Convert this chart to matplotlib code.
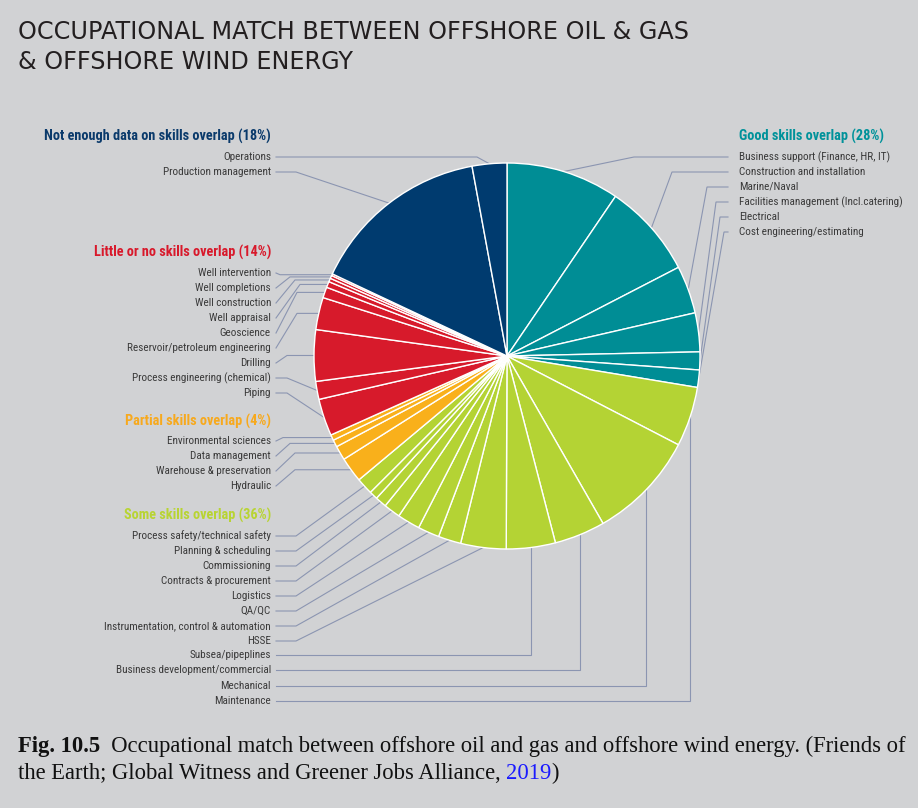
import numpy as np
import matplotlib.pyplot as plt
from matplotlib import font_manager

# shares of occupations (%), in the order of the label lists
good_labels = ['Business support (Finance, HR, IT)', 'Construction and installation', 'Marine/Naval',
               'Facilities management (Incl.catering)', 'Electrical', 'Cost engineering/estimating']
good_values = [9.5, 7.9, 4.0, 3.25, 1.5, 1.45]

some_labels = ['Process safety/technical safety', 'Planning & scheduling', 'Commissioning',
               'Contracts & procurement', 'Logistics', 'QA/QC', 'Instrumentation, control & automation',
               'HSSE', 'Subsea/pipeplines', 'Business development/commercial', 'Mechanical', 'Maintenance']
some_values = [1.4, 0.7, 0.95, 1.4, 1.9, 1.8, 1.9, 3.8, 4.1, 4.25, 9.1, 5.0]

partial_labels = ['Environmental sciences', 'Data management', 'Warehouse & preservation', 'Hydraulic']
partial_values = [0.47, 0.6, 1.2, 2.1]

little_labels = ['Well intervention', 'Well completions', 'Well construction', 'Well appraisal',
                 'Geoscience', 'Reservoir/petroleum engineering', 'Drilling',
                 'Process engineering (chemical)', 'Piping']
little_values = [0.15, 0.25, 0.3, 0.5, 0.9, 2.7, 4.3, 1.5, 3.1]

notenough_labels = ['Operations', 'Production management']
notenough_values = [2.9, 15.1]

group_titles = ['Good skills overlap (28%)', 'Some skills overlap (36%)', 'Partial skills overlap (4%)',
                'Little or no skills overlap (14%)', 'Not enough data on skills overlap (18%)']

# colours
BG = '#d1d2d4'
TEAL, GREEN, ORANGE, RED, NAVY = '#008d95', '#b4d334', '#f9b01b', '#d71a2b', '#003b6f'
HEAD = ['#00929a', '#b8d432', '#f7a91d', '#d8192b', '#0a3a6b']
LINE = '#8b95b1'
TXT = '#3a3a3a'

W, H = 918, 808
CX, CY, R = 507, 356, 193   # pie centre / radius in pixels (y from top)

# a narrow sans for the labels if one is installed
fonts = font_manager.fontManager.ttflist
avail = {f.name for f in fonts}
LFONT, LSTRETCH = 'Roboto', 'normal'
for n in ['Liberation Sans Narrow', 'Roboto Condensed', 'Noto Sans Condensed',
          'Open Sans Condensed', 'DejaVu Sans Condensed']:
    if n in avail:
        LFONT = n
        break
else:
    for n in ['Noto Sans', 'Open Sans', 'DejaVu Sans']:
        if any(f.name == n and f.stretch in ('condensed', 'semi-condensed') for f in fonts):
            LFONT, LSTRETCH = n, 'condensed'
            break

fig = plt.figure(figsize=(W / 100, H / 100), dpi=100, facecolor=BG)
ax = fig.add_axes([0, 0, 1, 1])
ax.set_facecolor(BG)
renderer = fig.canvas.get_renderer()


def fit_size(s, width, **kw):
    # font size that makes string s about `width` pixels wide
    t = ax.text(0, 0, s, fontsize=10, **kw)
    w = t.get_window_extent(renderer).width
    t.remove()
    return 10 * width / w


# clockwise from 12 o'clock: good, then the left-hand groups bottom-up
values = (good_values + some_values[::-1] + partial_values[::-1]
          + little_values[::-1] + notenough_values[::-1])
names = (good_labels + some_labels[::-1] + partial_labels[::-1]
         + little_labels[::-1] + notenough_labels[::-1])
colors = ([TEAL] * len(good_values) + [GREEN] * len(some_values) + [ORANGE] * len(partial_values)
          + [RED] * len(little_values) + [NAVY] * len(notenough_values))

wedges, _ = ax.pie(values, colors=colors, startangle=90, counterclock=False,
                   center=(CX, H - CY), radius=R,
                   wedgeprops=dict(edgecolor='white', linewidth=1.0))
ax.set_xlim(0, W)
ax.set_ylim(0, H)
ax.set_aspect('equal')
ax.axis('off')

mid = {}
for n, w in zip(names, wedges):
    a = np.deg2rad((w.theta1 + w.theta2) / 2)
    mid[n] = (CX + R * np.cos(a), CY - R * np.sin(a))


def leader(x0, y0, bend, target, style):
    tx, ty = target
    if style == 'hd':
        pts = [(x0, y0), (bend, y0), (tx, ty)]
    elif style == 'dh':
        pts = [(x0, y0), (bend, ty), (tx, ty)]
    else:  # horizontal then vertical
        pts = [(x0, y0), (tx, y0), (tx, ty)]
    xs = [p[0] for p in pts]
    ys = [H - p[1] for p in pts]
    ax.plot(xs, ys, color=LINE, lw=0.8, solid_joinstyle='miter', zorder=0)


LX, LLINE = 271, 276     # left text right edge / line start
RX, RLINE = 739, 728     # right text left edge / line start
lkw = dict(family=LFONT, fontstretch=LSTRETCH)
FS = fit_size('Production management', 108, **lkw)
HFS = fit_size(group_titles[4], 226, fontweight='bold', **lkw)


def label(x, y, s, ha):
    ax.text(x, H - y, s, ha=ha, va='center', fontsize=FS, color=TXT, **lkw)


def header(x, y, s, ha, c):
    ax.text(x, H - y, s, ha=ha, va='center', fontsize=HFS, color=c, fontweight='bold', **lkw)


# right side: good skills
header(RX, 136, group_titles[0], 'left', HEAD[0])
good_y = [157, 172, 187, 202, 217, 232]
good_bend = [634, 672, 707, 716, 720, 724]
for s, y, b in zip(good_labels, good_y, good_bend):
    label(RX, y, s, 'left')
    leader(RLINE, y, b, mid[s], 'hd')

# left side: not enough data
header(LX, 136, group_titles[4], 'right', HEAD[4])
ne_y = [157, 172]
ne_bend = [477, 296]
for s, y, b in zip(notenough_labels, ne_y, ne_bend):
    label(LX, y, s, 'right')
    leader(LLINE, y, b, mid[s], 'hd')

# little or no
header(LX, 252, group_titles[3], 'right', HEAD[3])
lit_y = [273, 288, 303, 318, 333, 348, 363, 378, 393]
lit_bend = [280, 290, 295, 300, 297, 297, 287, 287, 287]
lit_style = ['dh'] * 7 + ['hd'] * 2
for s, y, b, st in zip(little_labels, lit_y, lit_bend, lit_style):
    label(LX, y, s, 'right')
    leader(LLINE, y, b, mid[s], st)

# partial
header(LX, 421, group_titles[2], 'right', HEAD[2])
par_y = [441, 456, 471, 486]
par_bend = [283, 290, 295, 295]
for s, y, b in zip(partial_labels, par_y, par_bend):
    label(LX, y, s, 'right')
    leader(LLINE, y, b, mid[s], 'dh')

# some
header(LX, 515, group_titles[1], 'right', HEAD[1])
some_y = [536, 551, 566, 581, 596, 611, 626, 641, 655, 670, 686, 701]
some_style = ['hd'] * 8 + ['hv'] * 4
for s, y, st in zip(some_labels, some_y, some_style):
    label(LX, y, s, 'right')
    leader(LLINE, y, 296, mid[s], st)

# title
title1 = 'OCCUPATIONAL MATCH BETWEEN OFFSHORE OIL & GAS'
TFS = fit_size(title1, 667, family='DejaVu Sans')
ax.text(18, H - 32, title1, fontsize=TFS, color='#231f20', va='center', ha='left', family='DejaVu Sans')
ax.text(18, H - 62, '& OFFSHORE WIND ENERGY', fontsize=TFS,
        color='#231f20', va='center', ha='left', family='DejaVu Sans')

# caption
cap_rest = '  Occupational match between offshore oil and gas and offshore wind energy. (Friends of'
CFS = fit_size(cap_rest, 805, family='Liberation Serif')
cap = dict(fontsize=CFS, color='#111111', family='Liberation Serif')
t = ax.text(18, H - 752, 'Fig. 10.5', fontweight='bold', va='baseline', **cap)
ax.annotate(cap_rest, xycoords=t, xy=(1, 0), va='bottom', **cap)
t2 = ax.text(18, H - 779, 'the Earth; Global Witness and Greener Jobs Alliance, ', va='baseline', **cap)
t3 = ax.annotate('2019', xycoords=t2, xy=(1, 0), va='bottom',
                 **{**cap, 'color': '#1a1aff'})
ax.annotate(')', xycoords=t3, xy=(1, 0), va='bottom', **cap)

fig.savefig('out.png', dpi=100, facecolor=BG)
